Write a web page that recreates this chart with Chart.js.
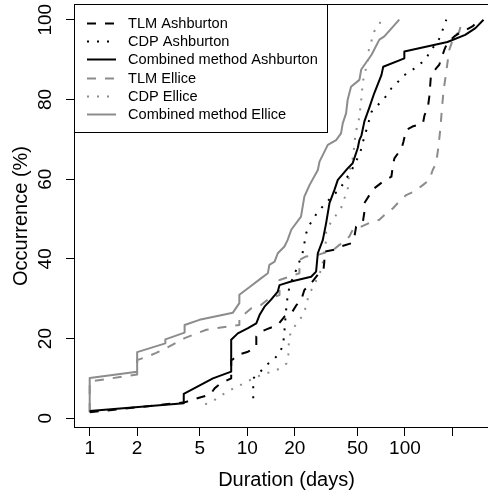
<!DOCTYPE html>
<html>
<head>
<meta charset="utf-8">
<script src="https://cdn.jsdelivr.net/npm/chart.js@4.4.1/dist/chart.umd.min.js"></script>
<style>
  html, body { margin: 0; padding: 0; background: #fff; overflow: hidden; }
  canvas { display: block; }
</style>
</head>
<body>
<canvas id="chart" width="510" height="495"></canvas>
<script>
// cumulative occurrence (%) against event duration (days)
const tlmAshDays = [1, 4.0, 5.0, 5.8, 6.2, 6.8, 7.9, 7.9, 8.1, 8.7, 10.1, 11.4, 11.4, 12.2, 13.8, 15.6, 17.2, 19.0, 20.5, 22.0,
  23.0, 24.8, 28.0, 30.4, 30.8, 30.8, 34.9, 39.3, 45.5, 47.8, 49.0, 54.1, 55.3, 55.3, 59.5, 63.9, 72.6, 82.0, 84.0, 85.7,
  95.4, 97.8, 101.8, 111.5, 130, 133, 140, 142.7, 146, 157.6, 165, 177.7, 185, 205.6, 221, 268, 288, 296];
const tlmAshPct = [1.5, 4.0, 5.2, 5.9, 7.5, 8.8, 10.0, 14.6, 14.8, 15.9, 16.7, 18.0, 20.5, 21.7, 22.6, 23.4, 25.5, 26.3, 28.4, 29.7,
  32.2, 33.4, 36.0, 37.2, 39.3, 41.8, 42.2, 43.1, 43.9, 45.6, 48.1, 49.3, 51.8, 54.0, 56.0, 57.7, 59.4, 60.6, 63.6, 65.2,
  67.8, 69.4, 72.3, 73.2, 74.0, 76.0, 78.2, 80.7, 85.7, 87.8, 88.7, 92.4, 94.1, 95.8, 96.6, 98.3, 99.5, 100];

const cdpAshDays = [10.9, 10.9, 12.1, 13.3, 15.0, 16.2, 16.9, 17.2, 17.4, 17.6, 18.0, 18.5, 19.4, 20.4, 21.4, 22.4, 23.0, 23.6, 24.8, 26.7,
  28.7, 31.6, 34.9, 38.4, 41.3, 46.0, 49.4, 52.5, 54.6, 56.9, 61.4, 68.8, 74.1, 82.1, 90.7, 99.1, 111.5, 123.4, 136.4, 146,
  162, 170.5, 177.7, 183];
const cdpAshPct = [5.0, 10.0, 11.7, 13.4, 15.1, 16.7, 18.8, 22.0, 24.5, 27.0, 30.5, 33.0, 35.1, 37.2, 39.3, 41.4, 43.9, 46.4, 48.5, 50.6,
  52.3, 54.0, 56.0, 57.3, 59.4, 62.3, 64.8, 67.3, 69.9, 72.3, 76.9, 79.0, 80.3, 82.8, 84.5, 86.1, 87.4, 88.7, 90.3, 92.4,
  94.5, 96.6, 98.7, 100];

const combAshDays = [1, 3.95, 3.95, 6.05, 7.9, 7.9, 8.7, 10.1, 11.4, 11.95, 12.85, 14.1, 15.6, 16.0, 18.95, 25.4, 27.3, 28.0, 30.1, 31.6,
  33.2, 35.7, 37.5, 43.3, 46.6, 50.2, 51.4, 53, 55.3, 59.5, 63.9, 67.7, 70.9, 72.8, 99.1, 99.1, 186, 241, 280, 315];
const combAshPct = [1.8, 3.8, 6.1, 10.0, 11.7, 19.7, 21.3, 22.6, 23.8, 25.9, 28.0, 29.7, 31.8, 33.4, 34.3, 35.5, 36.8, 41.4, 44.7, 48.9,
  54.0, 57.3, 59.8, 62.7, 64.0, 67.8, 69.8, 71.0, 74.5, 78.0, 81.6, 84.1, 86.1, 88.2, 90.3, 92.0, 94.4, 96.2, 97.9, 100];

const tlmEllDays = [1, 1, 2.0, 2.0, 2.33, 2.64, 3.06, 4.0, 4.5, 5.5, 6.3, 7.4, 8.9, 8.9, 10.6, 12.2, 13.8, 16.0, 16.0, 18.5,
  21.4, 21.4, 23.6, 28, 30.8, 34.9, 38.4, 44.4, 46.6, 52.8, 59.5, 68.8, 74.1, 84, 92, 101.8, 114.7, 129.7, 142.7, 150,
  157.6, 162, 165, 168, 172, 176, 181, 188, 191, 205, 220, 228, 233];
const tlmEllPct = [1.5, 9.2, 11.0, 14.6, 15.5, 16.4, 17.6, 20.1, 20.9, 22.2, 22.6, 23.0, 23.4, 25.1, 27.6, 28.4, 30.1, 30.9, 34.7, 35.5,
  36.4, 39.7, 40.6, 41.0, 41.5, 42.2, 43.5, 45.6, 47.3, 48.1, 49.0, 49.8, 51.0, 52.7, 54.4, 56.0, 56.9, 58.5, 59.8, 62.3,
  64.0, 67.3, 70.0, 73.0, 78.2, 82.4, 85.7, 90.5, 92.4, 96.0, 96.8, 99.0, 100];

const cdpEllDays = [5.4, 6.1, 6.8, 7.7, 8.6, 9.6, 10.9, 12.3, 14.3, 16.2, 17.8, 18.2, 18.3, 18.6, 19.7, 21.5, 23.1, 23.7, 24.9, 26.5,
  29.7, 30.4, 31.6, 31.6, 34.0, 36.6, 39.3, 41.3, 43.3, 44.4, 46.5, 47.8, 48.5, 50.2, 51.4, 52.8, 54.1, 58.2, 59.0, 63.9,
  68.8, 70.5];
const cdpEllPct = [3.5, 4.4, 5.7, 6.9, 8.0, 8.8, 10.0, 10.9, 11.7, 12.5, 13.8, 15.9, 18.4, 20.8, 22.8, 24.7, 26.8, 29.0, 31.4, 33.4,
  37.6, 40.2, 44.7, 46.8, 49.3, 51.0, 52.7, 55.2, 57.3, 61.9, 65.0, 68.5, 71.5, 73.6, 75.7, 79.9, 84.5, 89.9, 92.4, 97.1,
  98.7, 100];

const combEllDays = [1, 1, 2.0, 2.0, 3.02, 3.02, 4.0, 4.0, 4.97, 8.1, 8.9, 8.9, 10.4, 12.2, 13.5, 13.8, 14.9, 15.6, 17.2, 18.0,
  19.0, 21.9, 23.0, 24.8, 28.0, 28.7, 32.4, 36.6, 39.3, 40.3, 42.3, 43.3, 45.5, 51.4, 52.8, 61.4, 68.8, 74, 92];
const combEllPct = [1.6, 10.1, 11.7, 16.6, 18.8, 19.8, 21.5, 23.4, 24.7, 26.5, 28.9, 31.0, 33.0, 35.1, 36.4, 38.5, 39.3, 41.4, 43.1, 44.7,
  47.3, 50.6, 55.6, 58.5, 62.3, 64.4, 68.6, 69.8, 71.5, 74.0, 76.5, 79.9, 83.2, 84.9, 87.5, 91.2, 95.0, 95.8, 100];

const xTicks = [1, 2, 5, 10, 20, 50, 100, 200];
const xTickLabels = ["1", "2", "5", "10", "20", "50", "100", ""];
const yTicks = [0, 20, 40, 60, 80, 100];

const font = "'Liberation Sans', Arial, Helvetica, sans-serif";
const black = "#000000";
const grey = "#8c8c8c";
const dashed = [9, 9];
const dotted = [2, 8];

function pairs(days, pct) {
  return days.map((d, i) => ({ x: d, y: pct[i] }));
}

function line(label, days, pct, color, dash) {
  return {
    label: label,
    data: pairs(days, pct),
    borderColor: color,
    borderDash: dash,
    borderWidth: 2,
    borderCapStyle: "butt",
    borderJoinStyle: "round",
    pointRadius: 0,
    tension: 0,
    fill: false,
  };
}

// plot frame + legend box in the top-left corner
const frameAndLegend = {
  id: "frameAndLegend",
  afterDraw(chart) {
    const ctx = chart.ctx;
    const a = chart.chartArea;
    ctx.save();
    ctx.strokeStyle = black;
    ctx.lineWidth = 1;
    ctx.setLineDash([]);
    ctx.strokeRect(a.left + 0.5, a.top + 0.5, a.right - a.left, a.bottom - a.top - 1);

    ctx.fillStyle = "#fff";
    ctx.fillRect(a.left + 1, a.top + 1, 252, 127);
    ctx.strokeRect(a.left + 0.5, a.top + 0.5, 253, 128);

    ctx.font = "14.6px " + font;
    ctx.textBaseline = "middle";
    ctx.textAlign = "left";
    chart.data.datasets.forEach((ds, i) => {
      const y = Math.round(a.top + 19.3 + i * 18.08) + 0.5;
      ctx.beginPath();
      ctx.strokeStyle = ds.borderColor;
      ctx.lineWidth = 2;
      ctx.setLineDash(ds.borderDash || []);
      ctx.moveTo(a.left + 13, y);
      ctx.lineTo(a.left + 42, y);
      ctx.stroke();
      ctx.fillStyle = black;
      ctx.fillText(ds.label, a.left + 54, y);
    });
    ctx.restore();
  },
};

const chart = new Chart(document.getElementById("chart"), {
  type: "line",
  data: {
    datasets: [
      line("TLM Ashburton", tlmAshDays, tlmAshPct, black, dashed),
      line("CDP Ashburton", cdpAshDays, cdpAshPct, black, dotted),
      line("Combined method Ashburton", combAshDays, combAshPct, black, []),
      line("TLM Ellice", tlmEllDays, tlmEllPct, grey, dashed),
      line("CDP Ellice", cdpEllDays, cdpEllPct, grey, dotted),
      line("Combined method Ellice", combEllDays, combEllPct, grey, []),
    ],
  },
  plugins: [frameAndLegend],
  options: {
    responsive: false,
    animation: false,
    layout: { padding: { top: 4, right: 11, left: 0, bottom: 0 } },
    plugins: {
      legend: { display: false },
      tooltip: { enabled: false },
    },
    scales: {
      x: {
        type: "logarithmic",
        min: 0.795,
        max: 395,
        afterBuildTicks: (scale) => {
          scale.ticks = xTicks.map((v) => ({ value: v }));
        },
        afterFit: (scale) => {
          scale.height = 67;
          scale.paddingLeft = 0;
          scale.paddingRight = 0;
        },
        ticks: {
          autoSkip: false,
          maxRotation: 0,
          padding: 1,
          color: black,
          font: { family: font, size: 19 },
          callback: (value, index) => xTickLabels[index],
        },
        grid: {
          drawOnChartArea: false,
          tickLength: 8,
          tickColor: black,
          tickWidth: 1,
        },
        border: { display: false },
        title: {
          display: true,
          text: "Duration (days)",
          color: black,
          font: { family: font, size: 20 },
          padding: { top: 0, bottom: 3 },
        },
      },
      y: {
        type: "linear",
        min: -2.44,
        max: 103.94,
        afterBuildTicks: (scale) => {
          scale.ticks = yTicks.map((v) => ({ value: v }));
        },
        afterFit: (scale) => {
          scale.width = 74;
          scale.paddingTop = 0;
          scale.paddingBottom = 0;
        },
        ticks: {
          minRotation: 90,
          maxRotation: 90,
          crossAlign: "center",
          padding: 4,
          color: black,
          font: { family: font, size: 19 },
        },
        grid: {
          drawOnChartArea: false,
          tickLength: 8,
          tickColor: black,
          tickWidth: 1,
        },
        border: { display: false },
        title: {
          display: true,
          text: "Occurrence (%)",
          color: black,
          font: { family: font, size: 20 },
          padding: { top: 9, bottom: 0 },
        },
      },
    },
  },
});
</script>
</body>
</html>
